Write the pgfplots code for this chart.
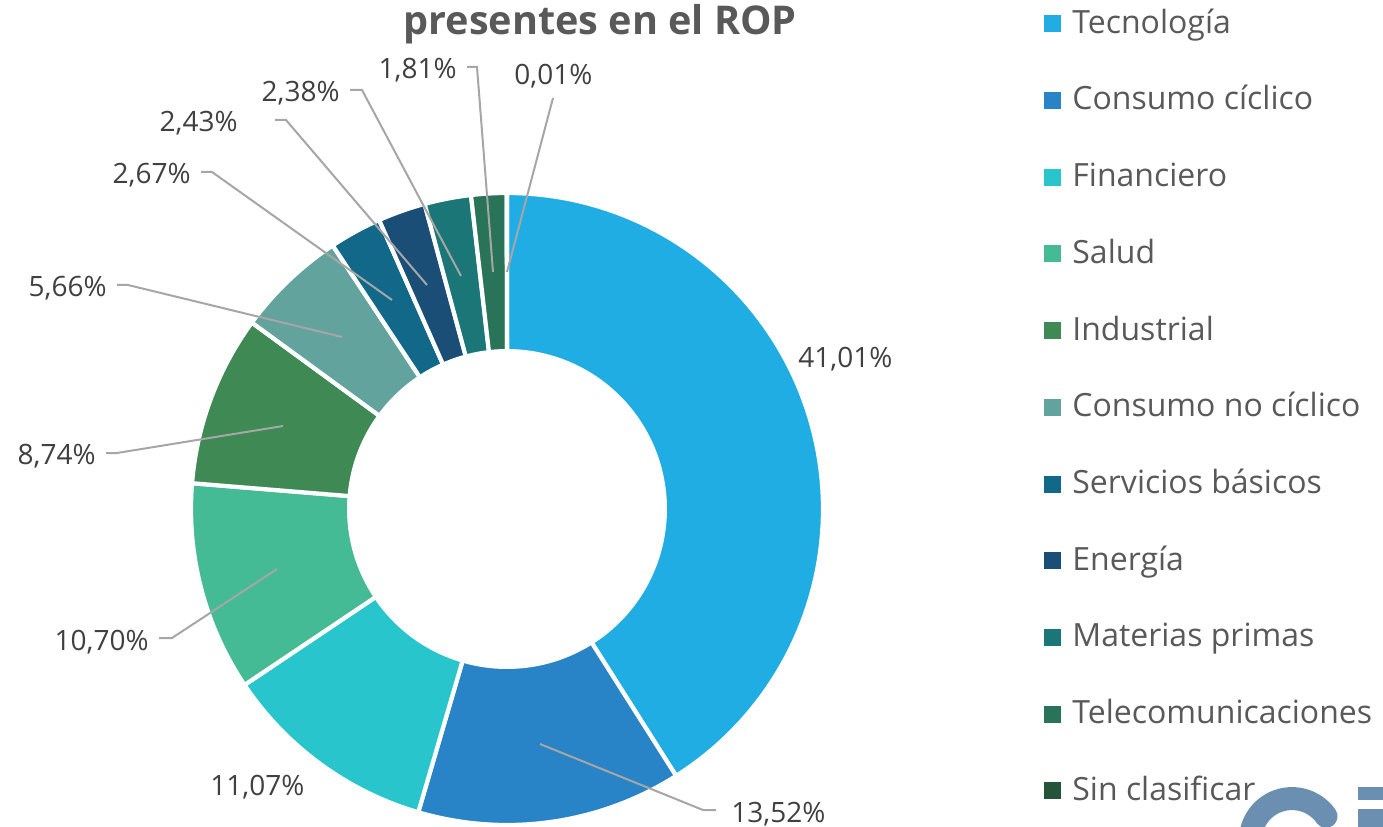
\documentclass[border=0pt]{standalone}
\usepackage{fontspec}
\setmainfont{Open Sans}
\usepackage{pgfplots}
\usepackage{pgfplotstable}
\pgfplotsset{compat=1.18}

\definecolor{c0}{HTML}{1FADE4}
\definecolor{c1}{HTML}{2884C6}
\definecolor{c2}{HTML}{29C5CD}
\definecolor{c3}{HTML}{45BB95}
\definecolor{c4}{HTML}{3F8954}
\definecolor{c5}{HTML}{63A39E}
\definecolor{c6}{HTML}{116889}
\definecolor{c7}{HTML}{1A4E76}
\definecolor{c8}{HTML}{1B7678}
\definecolor{c9}{HTML}{297358}
\definecolor{c10}{HTML}{24553A}
\definecolor{labcol}{HTML}{404040}
\definecolor{legcol}{HTML}{595959}
\definecolor{leadcol}{HTML}{A6A6A6}
\definecolor{logocol}{HTML}{6A8FB0}

% sector shares (%), clockwise from 12 o'clock
\pgfplotstableread{
value
41.01
13.52
11.07
10.70
8.74
5.66
2.67
2.43
2.38
1.81
0.01
}\sectordata
\pgfplotstablecreatecol[expr accum={\pgfmathaccuma + \thisrow{value}}{0}]{cum}\sectordata

\begin{document}
\begin{tikzpicture}
\begin{axis}[
  at={(0,0)}, anchor=south west,
  width=691.5pt, height=413pt, scale only axis,
  xmin=0, xmax=1383, ymin=0, ymax=826,
  enlargelimits=false, axis lines=none, clip=false,
]
% donut slices
\pgfplotsforeachungrouped \i in {0,...,10}{
  \pgfplotstablegetelem{\i}{value}\of\sectordata \let\valv\pgfplotsretval
  \pgfplotstablegetelem{\i}{cum}\of\sectordata \let\cumv\pgfplotsretval
  \pgfmathsetmacro\angE{90-3.6*\cumv}
  \pgfmathsetmacro\angS{90-3.6*(\cumv-\valv)}
  \edef\cmd{\noexpand\addplot[fill=c\i, draw=white, line width=2.1pt, line join=miter, domain=\angE:\angS, samples=90] ({507+316*cos(x)},{317+316*sin(x)}) -- (axis cs:507,317) -- cycle;}
  \cmd
}
% hole
\addplot[fill=white, draw=none, domain=0:360, samples=180] ({507+160*cos(x)},{317+160*sin(x)}) -- cycle;

% leader lines
\addplot[leadcol, line width=1pt] coordinates {(540,82) (703,16) (716,16)};
\addplot[leadcol, line width=1pt] coordinates {(277,257) (172,188) (159,188)};
\addplot[leadcol, line width=1pt] coordinates {(283,400) (117,373) (106,373)};
\addplot[leadcol, line width=1pt] coordinates {(342,489) (128,541) (117,541)};
\addplot[leadcol, line width=1pt] coordinates {(392,526) (212,654) (201,654)};
\addplot[leadcol, line width=1pt] coordinates {(427,541) (286,706) (275,706)};
\addplot[leadcol, line width=1pt] coordinates {(461,550) (362,736) (350,736)};
\addplot[leadcol, line width=1pt] coordinates {(493,554) (477,759) (467,759)};
\addplot[leadcol, line width=1pt] coordinates {(507,554) (553,728)};

% data labels
\begin{scope}[every node/.style={inner sep=0pt, text=labcol, font=\fontsize{14}{16}\selectfont}]
\node[anchor=base west] at (axis cs:798,459) {41,01\%};
\node[anchor=base west] at (axis cs:731,4) {13,52\%};
\node[anchor=base west] at (axis cs:210,31) {11,07\%};
\node[anchor=base east] at (axis cs:149,176) {10,70\%};
\node[anchor=base east] at (axis cs:96,362) {8,74\%};
\node[anchor=base east] at (axis cs:107,530) {5,66\%};
\node[anchor=base east] at (axis cs:191,642) {2,67\%};
\node[anchor=base east] at (axis cs:238,694) {2,43\%};
\node[anchor=base east] at (axis cs:340,724) {2,38\%};
\node[anchor=base east] at (axis cs:457,747) {1,81\%};
\node[anchor=base west] at (axis cs:514,741) {0,01\%};
\end{scope}

% title (cut off at top)
\node[anchor=base, inner sep=0pt, text=legcol, font=\fontsize{19.8}{22}\selectfont\bfseries] at (axis cs:600,791) {presentes en el ROP};

% legend
\pgfplotsinvokeforeach{0,...,10}{
  \addplot[only marks, mark=square*, color=c#1, mark size=4pt] coordinates {(1052,{802.3-76.7*#1})};
}
\begin{scope}[every node/.style={inner sep=0pt, anchor=base west, text=legcol, font=\fontsize{16}{18}\selectfont}]
\node at (axis cs:1072,792.7) {Tecnología};
\node at (axis cs:1072,716.0) {Consumo cíclico};
\node at (axis cs:1072,639.3) {Financiero};
\node at (axis cs:1072,562.6) {Salud};
\node at (axis cs:1072,485.9) {Industrial};
\node at (axis cs:1072,409.2) {Consumo no cíclico};
\node at (axis cs:1072,332.5) {Servicios básicos};
\node at (axis cs:1072,255.8) {Energía};
\node at (axis cs:1072,179.1) {Materias primas};
\node at (axis cs:1072,102.4) {Telecomunicaciones};
\node at (axis cs:1072,25.7) {Sin clasificar};
\end{scope}

% logo fragment (bottom right)
\addplot[logocol, line width=11.5pt, line cap=round, domain=35:220, samples=60] ({1292+41.6*cos(x)},{-14.2+41.6*sin(x)});
\addplot[fill=logocol, draw=none] coordinates {(1358,26) (1395,26) (1395,39) (1358,39)} -- cycle;
\addplot[fill=logocol, draw=none] coordinates {(1358,-10) (1395,-10) (1395,17) (1358,17)} -- cycle;
\end{axis}
\pgfresetboundingbox
\useasboundingbox (0,0) rectangle (691.5pt,413pt);
\end{tikzpicture}
\end{document}
